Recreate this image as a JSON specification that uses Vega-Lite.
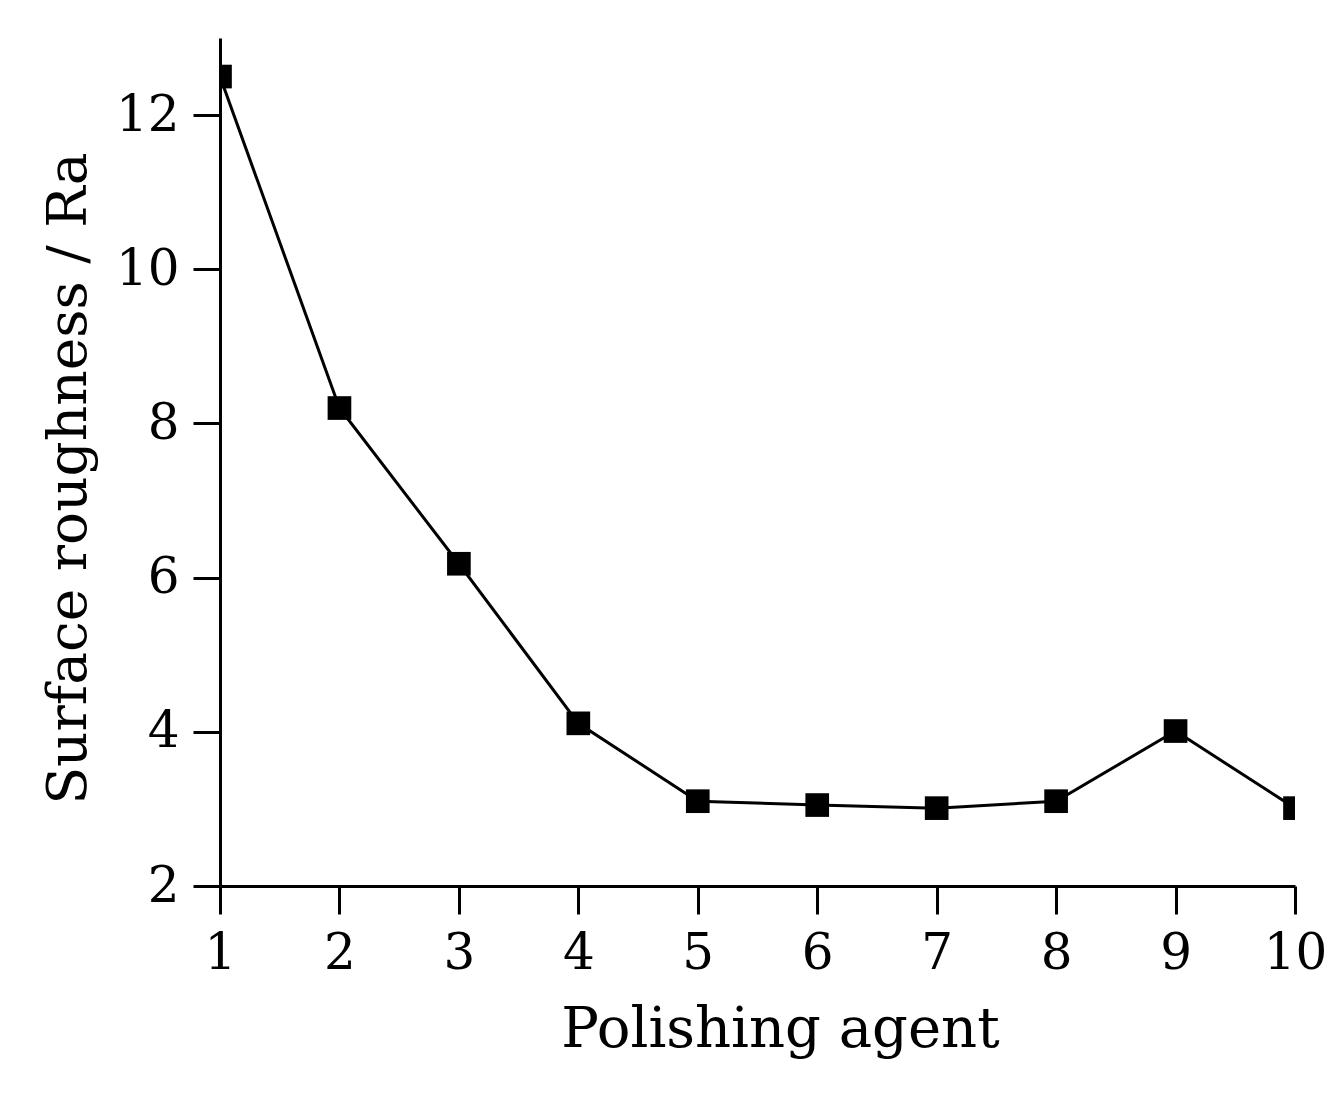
{
  "$schema": "https://vega.github.io/schema/vega-lite/v6.json",
  "autosize": "none",
  "width": 1075,
  "height": 848,
  "padding": {"left": 220, "top": 38, "right": 49, "bottom": 214},
  "background": "white",
  "config": {
    "view": {"stroke": null},
    "font": "DejaVu Serif"
  },
  "data": {
    "values": [
      {"agent": 1, "ra": 12.5},
      {"agent": 2, "ra": 8.2},
      {"agent": 3, "ra": 6.18},
      {"agent": 4, "ra": 4.11},
      {"agent": 5, "ra": 3.1},
      {"agent": 6, "ra": 3.05},
      {"agent": 7, "ra": 3.01},
      {"agent": 8, "ra": 3.1},
      {"agent": 9, "ra": 4.01},
      {"agent": 10, "ra": 3.01}
    ]
  },
  "encoding": {
    "x": {
      "field": "agent", "type": "quantitative",
      "scale": {"domain": [1, 10], "nice": false, "zero": false},
      "axis": {
        "title": "Polishing agent", "values": [1,2,3,4,5,6,7,8,9,10],
        "grid": false, "domainColor": "black", "domainWidth": 3,
        "tickColor": "black", "tickWidth": 3, "tickSize": 28,
        "labelFontSize": 50, "labelColor": "black", "labelPadding": 14,
        "labelFlush": false, "labelOverlap": false,
        "titleFontSize": 56, "titleFontWeight": "normal", "titleColor": "black", "titlePadding": 24,
        "titleX": 560
      }
    },
    "y": {
      "field": "ra", "type": "quantitative",
      "scale": {"domain": [2, 13], "nice": false, "zero": false},
      "axis": {
        "title": "Surface roughness / Ra", "values": [2,4,6,8,10,12],
        "grid": false, "domainColor": "black", "domainWidth": 3,
        "tickColor": "black", "tickWidth": 3, "tickSize": 27,
        "labelFontSize": 50, "labelColor": "black", "labelPadding": 14,
        "labelFlush": false, "labelOverlap": false,
        "titleFontSize": 55, "titleFontWeight": "normal", "titleColor": "black", "titlePadding": 18,
        "titleY": 440
      }
    }
  },
  "layer": [
    {"mark": {"type": "line", "color": "black", "strokeWidth": 3, "clip": true}},
    {"mark": {"type": "point", "shape": "square", "filled": true, "color": "black", "opacity": 1, "size": 560, "clip": true}}
  ]
}
